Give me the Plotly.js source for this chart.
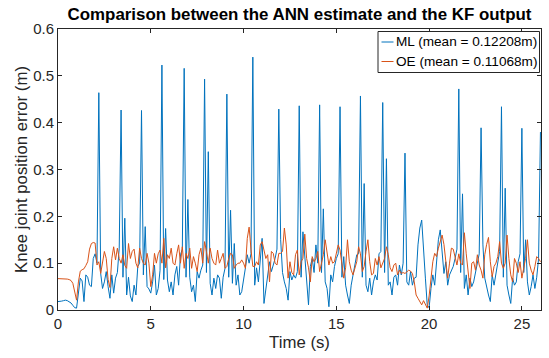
<!DOCTYPE html>
<html>
<head>
<meta charset="utf-8">
<script src="https://cdn.plot.ly/plotly-3.0.1.min.js"></script>
<style>html,body{margin:0;padding:0;background:#fff;}#chart{width:549px;height:358px;}</style>
</head>
<body>
<div id="chart"></div>
<script>
// Sample times (s)
const time = [
 0.0,0.1,0.2,0.3,0.4,0.5,0.6,0.7,0.8,0.9,
 1.0,1.1,1.2,1.3,1.4,1.5,1.6,1.7,1.8,1.9,
 2.0,2.1,2.2,2.3,2.4,2.5,2.6,2.7,2.8,2.9,
 3.0,3.1,3.2,3.3,3.4,3.5,3.6,3.7,3.8,3.9,
 4.0,4.1,4.2,4.3,4.4,4.5,4.6,4.7,4.8,4.9,
 5.0,5.1,5.2,5.3,5.4,5.5,5.6,5.7,5.8,5.9,
 6.0,6.1,6.2,6.3,6.4,6.5,6.6,6.7,6.8,6.9,
 7.0,7.1,7.2,7.3,7.4,7.5,7.6,7.7,7.8,7.9,
 8.0,8.1,8.2,8.3,8.4,8.5,8.6,8.7,8.8,8.9,
 9.0,9.1,9.2,9.3,9.4,9.5,9.6,9.7,9.8,9.9,
 10.0,10.1,10.2,10.3,10.4,10.5,10.6,10.7,10.8,10.9,
 11.0,11.1,11.2,11.3,11.4,11.5,11.6,11.7,11.8,11.9,
 12.0,12.1,12.2,12.3,12.4,12.5,12.6,12.7,12.8,12.9,
 13.0,13.1,13.2,13.3,13.4,13.5,13.6,13.7,13.8,13.9,
 14.0,14.1,14.2,14.3,14.4,14.5,14.6,14.7,14.8,14.9,
 15.0,15.1,15.2,15.3,15.4,15.5,15.6,15.7,15.8,15.9,
 16.0,16.1,16.2,16.3,16.4,16.5,16.6,16.7,16.8,16.9,
 17.0,17.1,17.2,17.3,17.4,17.5,17.6,17.7,17.8,17.9,
 18.0,18.1,18.2,18.3,18.4,18.5,18.6,18.7,18.8,18.9,
 19.0,19.1,19.2,19.3,19.4,19.5,19.6,19.7,19.8,19.9,
 20.0,20.1,20.2,20.3,20.4,20.5,20.6,20.7,20.8,20.9,
 21.0,21.1,21.2,21.3,21.4,21.5,21.6,21.7,21.8,21.9,
 22.0,22.1,22.2,22.3,22.4,22.5,22.6,22.7,22.8,22.9,
 23.0,23.1,23.2,23.3,23.4,23.5,23.6,23.7,23.8,23.9,
 24.0,24.1,24.2,24.3,24.4,24.5,24.6,24.7,24.8,24.9,
 25.0,25.1,25.2,25.3,25.4,25.5,25.6,25.7,25.8,25.9,
 26.0
];

// ML knee joint position error (m)
const mlError = [
 0.018,0.018,0.019,0.020,0.021,0.020,0.018,0.015,0.010,0.005,
 0.004,0.040,0.068,0.062,0.018,0.075,0.070,0.053,0.050,0.110,
 0.120,0.100,0.464,0.078,0.046,0.060,0.082,0.050,0.025,0.075,
 0.036,0.068,0.080,0.132,0.427,0.070,0.196,0.032,0.070,0.030,
 0.018,0.053,0.032,0.093,0.100,0.426,0.075,0.178,0.050,0.045,
 0.036,0.060,0.096,0.032,0.046,0.085,0.523,0.065,0.174,0.064,
 0.039,0.060,0.032,0.075,0.093,0.053,0.118,0.130,0.516,0.070,
 0.236,0.070,0.039,0.053,0.018,0.082,0.068,0.085,0.096,0.493,
 0.080,0.338,0.057,0.032,0.068,0.046,0.075,0.068,0.025,0.070,
 0.089,0.461,0.070,0.213,0.057,0.142,0.053,0.075,0.032,0.039,
 0.071,0.090,0.118,0.100,0.120,0.540,0.053,0.090,0.060,0.100,
 0.153,0.014,0.046,0.070,0.103,0.082,0.096,0.110,0.130,0.429,
 0.150,0.080,0.060,0.046,0.021,0.082,0.064,0.075,0.068,0.082,
 0.436,0.070,0.167,0.110,0.060,0.011,0.093,0.110,0.080,0.139,
 0.100,0.438,0.080,0.216,0.060,0.046,0.007,0.075,0.060,0.093,
 0.110,0.120,0.434,0.070,0.114,0.053,0.032,0.014,0.053,0.075,
 0.089,0.118,0.120,0.457,0.070,0.270,0.053,0.039,0.068,0.032,
 0.060,0.075,0.064,0.120,0.125,0.443,0.080,0.323,0.053,0.060,
 0.032,0.070,0.075,0.053,0.096,0.075,0.100,0.335,0.060,0.053,
 0.082,0.053,0.068,0.070,0.139,0.175,0.192,0.139,0.068,0.010,
 0.005,0.046,0.075,0.053,0.100,0.150,0.171,0.120,0.078,0.103,
 0.053,0.075,0.085,0.093,0.110,0.130,0.472,0.080,0.248,0.046,
 0.075,0.032,0.068,0.050,0.060,0.082,0.103,0.120,0.389,0.139,
 0.068,0.046,0.032,0.018,0.075,0.053,0.080,0.103,0.125,0.434,
 0.070,0.260,0.053,0.032,0.014,0.068,0.053,0.060,0.103,0.120,
 0.388,0.080,0.150,0.060,0.032,0.050,0.075,0.046,0.070,0.110,
 0.380
];

// OE knee joint position error (m)
const oeError = [
 0.067,0.067,0.067,0.066,0.066,0.066,0.065,0.063,0.057,0.040,
 0.021,0.060,0.083,0.086,0.088,0.095,0.103,0.130,0.142,0.144,
 0.143,0.096,0.103,0.078,0.100,0.125,0.110,0.065,0.048,0.110,
 0.135,0.107,0.132,0.110,0.100,0.118,0.095,0.089,0.142,0.110,
 0.125,0.130,0.100,0.090,0.132,0.110,0.100,0.096,0.121,0.100,
 0.050,0.075,0.121,0.100,0.120,0.128,0.100,0.153,0.090,0.118,
 0.110,0.132,0.100,0.096,0.120,0.139,0.100,0.135,0.089,0.121,
 0.110,0.132,0.089,0.114,0.100,0.082,0.118,0.132,0.100,0.146,
 0.125,0.100,0.132,0.110,0.100,0.096,0.128,0.100,0.110,0.121,
 0.089,0.093,0.110,0.121,0.118,0.089,0.096,0.100,0.100,0.107,
 0.100,0.089,0.153,0.177,0.130,0.093,0.093,0.103,0.096,0.139,
 0.146,0.125,0.110,0.118,0.060,0.125,0.121,0.100,0.096,0.121,
 0.121,0.125,0.175,0.139,0.068,0.103,0.080,0.075,0.118,0.128,
 0.075,0.103,0.110,0.162,0.110,0.090,0.060,0.114,0.103,0.110,
 0.125,0.082,0.100,0.118,0.150,0.118,0.096,0.114,0.100,0.103,
 0.125,0.139,0.128,0.103,0.068,0.090,0.150,0.103,0.085,0.075,
 0.089,0.103,0.135,0.120,0.082,0.093,0.125,0.150,0.103,0.075,
 0.078,0.110,0.096,0.114,0.090,0.100,0.110,0.135,0.118,0.090,
 0.082,0.096,0.100,0.075,0.085,0.078,0.080,0.078,0.082,0.085,
 0.083,0.078,0.060,0.032,0.025,0.018,0.011,0.020,0.012,0.004,
 0.030,0.070,0.103,0.121,0.114,0.132,0.146,0.160,0.140,0.100,
 0.068,0.100,0.132,0.130,0.114,0.096,0.120,0.100,0.096,0.165,
 0.120,0.075,0.046,0.100,0.103,0.085,0.118,0.096,0.085,0.068,
 0.118,0.140,0.155,0.103,0.071,0.093,0.100,0.114,0.146,0.100,
 0.089,0.100,0.160,0.110,0.075,0.060,0.110,0.100,0.080,0.103,
 0.068,0.090,0.110,0.150,0.100,0.085,0.075,0.093,0.114,0.110,
 0.103
];

const seriesNames = ["ML (mean = 0.12208m)", "OE (mean = 0.11068m)"];
const seriesColors = ['#0072BD', '#D95319'];
const xTicks = [0, 5, 10, 15, 20, 25];
const yTicks = [0, 0.1, 0.2, 0.3, 0.4, 0.5, 0.6];
const yTickText = ["0", "0.1", "0.2", "0.3", "0.4", "0.5", "0.6"];

const W = 549, H = 358;
const M = {l: 58, r: 8, t: 29, b: 48};
const axisColor = '#262626';
const fontFam = '"Liberation Sans", Arial, Helvetica, sans-serif';

// pixel -> paper helpers (for the legend box placement)
const pw = W - M.l - M.r, ph = H - M.t - M.b;
const px = v => (v - M.l) / pw;
const py = v => (H - M.b - v) / ph;

const traces = [
  {x: time, y: mlError, type: 'scatter', mode: 'lines', name: seriesNames[0],
   line: {color: seriesColors[0], width: 1}},
  {x: time, y: oeError, type: 'scatter', mode: 'lines', name: seriesNames[1],
   line: {color: seriesColors[1], width: 1}}
];

// custom MATLAB-like legend
const legBox = {x0: 378, x1: 539.5, y0: 31.5, y1: 72.5};
const rowY = [42, 61.5];
const shapes = [
  {type: 'rect', xref: 'paper', yref: 'paper', x0: px(legBox.x0), x1: px(legBox.x1),
   y0: py(legBox.y1), y1: py(legBox.y0), fillcolor: '#fff', line: {color: axisColor, width: 1}, layer: 'above'}
];
const annotations = [];
seriesNames.forEach((nm, i) => {
  shapes.push({type: 'line', xref: 'paper', yref: 'paper', x0: px(381.5), x1: px(393.5),
    y0: py(rowY[i]), y1: py(rowY[i]), line: {color: seriesColors[i], width: 1}, layer: 'above'});
  annotations.push({xref: 'paper', yref: 'paper', x: px(393.5), y: py(rowY[i]),
    xanchor: 'left', yanchor: 'middle', showarrow: false, text: nm,
    font: {family: fontFam, size: 13.6, color: '#000'}});
});

const layout = {
  width: W, height: H,
  margin: {l: M.l, r: M.r, t: M.t, b: M.b, pad: 0},
  paper_bgcolor: '#fff', plot_bgcolor: '#fff',
  font: {family: fontFam, color: axisColor, size: 15},
  showlegend: false,
  title: {text: '<b>Comparison between the ANN estimate and the KF output</b>',
          font: {family: fontFam, size: 16.9, color: '#000'},
          x: 0.5, xref: 'paper', xanchor: 'center',
          y: 1 - 14/H, yref: 'container', yanchor: 'middle'},
  xaxis: {range: [0, 26.03], tickvals: xTicks, ticks: 'inside', ticklen: 4,
          tickcolor: axisColor, showline: true, linecolor: axisColor, linewidth: 1,
          mirror: 'ticks', showgrid: false, zeroline: false,
          tickfont: {size: 15, color: axisColor},
          title: {text: 'Time (s)', font: {size: 16.8, color: axisColor}, standoff: 5}},
  yaxis: {range: [0, 0.6], tickvals: yTicks, ticktext: yTickText, ticks: 'inside', ticklen: 4,
          tickcolor: axisColor, showline: true, linecolor: axisColor, linewidth: 1,
          mirror: 'ticks', showgrid: false, zeroline: false,
          tickfont: {size: 15, color: axisColor},
          title: {text: 'Knee joint position error (m)', font: {size: 16.8, color: axisColor}, standoff: 1}},
  shapes: shapes,
  annotations: annotations
};

Plotly.newPlot('chart', traces, layout, {staticPlot: true, displayModeBar: false});
</script>
</body>
</html>
